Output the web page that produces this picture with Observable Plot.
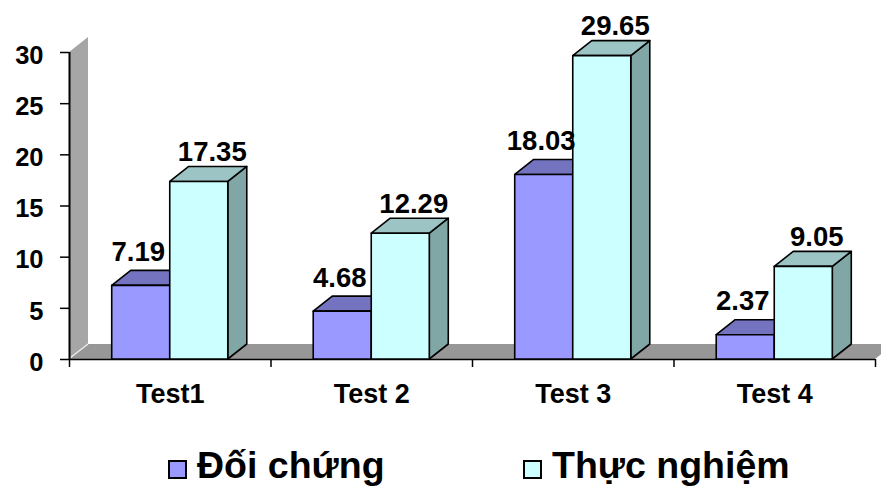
<!DOCTYPE html>
<html><head><meta charset="utf-8">
<script src="https://cdn.jsdelivr.net/npm/d3@7"></script>
<script src="https://cdn.jsdelivr.net/npm/@observablehq/plot@0.6"></script>
<style>
html,body{margin:0;padding:0;background:#fff;overflow:hidden;font-family:"Liberation Sans",Arial,sans-serif}
#legend{position:relative;width:881px;height:58px}
.sw{position:absolute;box-sizing:border-box;width:19px;height:19px;border:2px solid #000}
.lt{position:absolute;font-weight:bold;font-size:37.5px;line-height:37.5px;white-space:nowrap;color:#000}
</style></head>
<body><div id="chart"></div><div id="legend"></div>
<script>
const categories = ["Test1", "Test 2", "Test 3", "Test 4"];
const seriesNames = ["Đối chứng", "Thực nghiệm"];
const doiChung = [7.19, 4.68, 18.03, 2.37];
const thucNghiem = [17.35, 12.29, 29.65, 9.05];
const yTicks = [0, 5, 10, 15, 20, 25, 30];

const frontColors = ["#9999FF", "#CCFFFF"];
const topColors = ["#7373BF", "#9CC4C4"];
const sideColors = ["#6666AA", "#80A6A6"];
const wallColor = "#a6a6a6", floorColor = "#979797";

const DX = 19, DY = -15;   // 3D depth offset (pixels)
const W = 0.288;           // bar width as a fraction of a category slot

const rows = [];
categories.forEach((c, i) => {
  rows.push({cat: c, i, si: 0, value: doiChung[i]});
  rows.push({cat: c, i, si: 1, value: thucNghiem[i]});
});

function box3d(si) {
  const data = rows.filter(d => d.si === si);
  return Plot.rect(data, {
    x1: d => d.i + 0.5 + (si === 0 ? -W : 0),
    x2: d => d.i + 0.5 + (si === 0 ? 0 : W),
    y1: () => 0,
    y2: "value",
    render(index, scales, values) {
      const g = d3.create("svg:g").attr("stroke", "#000").attr("stroke-width", 1.6).attr("stroke-linejoin", "round");
      for (const k of index) {
        const xa = Math.min(values.x1[k], values.x2[k]), xb = Math.max(values.x1[k], values.x2[k]);
        const yt = Math.min(values.y1[k], values.y2[k]), yb = Math.max(values.y1[k], values.y2[k]);
        g.append("polygon").attr("fill", sideColors[si])
          .attr("points", [[xb, yt], [xb + DX, yt + DY], [xb + DX, yb + DY], [xb, yb]].join(" "));
        g.append("polygon").attr("fill", topColors[si])
          .attr("points", [[xa, yt], [xb, yt], [xb + DX, yt + DY], [xa + DX, yt + DY]].join(" "));
        g.append("rect").attr("fill", frontColors[si])
          .attr("x", xa).attr("y", yt).attr("width", xb - xa).attr("height", yb - yt);
      }
      return g.node();
    }
  });
}

const wall = Plot.ruleX([0], {
  y1: () => 0, y2: () => 30,
  render(index, scales, values) {
    const x = values.x[0], y1 = values.y1[0], y2 = values.y2[0];
    const g = d3.create("svg:g");
    g.append("polygon").attr("fill", wallColor)
      .attr("points", [[x, y1], [x, y2], [x + DX, y2 + DY], [x + DX, y1 + DY]].join(" "));
    return g.node();
  }
});

const floor = Plot.ruleY([0], {
  x1: () => 0, x2: () => categories.length,
  render(index, scales, values) {
    const y = values.y[0], x1 = values.x1[0], x2 = values.x2[0];
    const g = d3.create("svg:g");
    g.append("polygon").attr("fill", floorColor)
      .attr("points", [[x1, y], [x2, y], [x2 + DX, y + DY], [x1 + DX, y + DY]].join(" "));
    g.append("line").attr("stroke", "#eee").attr("stroke-width", 1.2)
      .attr("x1", x1 + 1).attr("y1", y - 1).attr("x2", x1 + DX).attr("y2", y + DY);
    return g.node();
  }
});

function labels(si, dx, dy) {
  return Plot.text(rows.filter(d => d.si === si), {
    x: d => d.i + 0.5 + (si === 0 ? -W / 2 : W / 2),
    y: "value",
    text: d => d.value.toFixed(2),
    dx, dy,
    lineAnchor: "bottom",
    fontSize: 27.5,
    fontWeight: "bold",
    fill: "#000"
  });
}

const chart = Plot.plot({
  width: 881,
  height: 430,
  marginLeft: 69,
  marginRight: 6,
  marginTop: 52,
  marginBottom: 71,
  style: {fontFamily: "'Liberation Sans', Arial, sans-serif", background: "#fff", color: "#000", fontWeight: "bold"},
  x: {type: "linear", domain: [0, categories.length], label: null},
  y: {domain: [0, 30], label: null},
  marks: [
    wall,
    floor,
    Plot.ruleX([0], {y1: () => 0, y2: () => 30, stroke: "#000", strokeWidth: 2}),
    Plot.ruleY([0], {x1: () => 0, x2: () => categories.length, stroke: "#000", strokeWidth: 1.6}),
    Plot.axisY({ticks: yTicks, tickSize: 9, tickFormat: () => "", strokeWidth: 1.5, label: null}),
    Plot.axisY({ticks: yTicks, tickSize: 0, tickPadding: 26, dy: 3, fontSize: 25.5, fontWeight: "bold", label: null}),
    Plot.axisX({ticks: d3.range(categories.length + 1), tickSize: 8, tickFormat: () => "", strokeWidth: 1.5, label: null}),
    Plot.axisX({ticks: categories.map((c, i) => i + 0.5), tickSize: 0, tickPadding: 24,
      tickFormat: d => categories[Math.floor(d)], fontSize: 27, fontWeight: "bold", label: null}),
    box3d(0),
    box3d(1),
    labels(0, -3, -25),
    labels(1, 13, -21)
  ]
});
document.getElementById("chart").appendChild(chart);

// legend
const legend = document.getElementById("legend");
const legendX = [168, 523];
seriesNames.forEach((name, si) => {
  const sw = document.createElement("div");
  sw.className = "sw";
  sw.style.left = legendX[si] + "px";
  sw.style.top = "30px";
  sw.style.background = frontColors[si];
  legend.appendChild(sw);
  const t = document.createElement("div");
  t.className = "lt";
  t.textContent = name;
  t.style.left = (legendX[si] + 29) + "px";
  t.style.top = "17px";
  legend.appendChild(t);
});
</script>
</body></html>
